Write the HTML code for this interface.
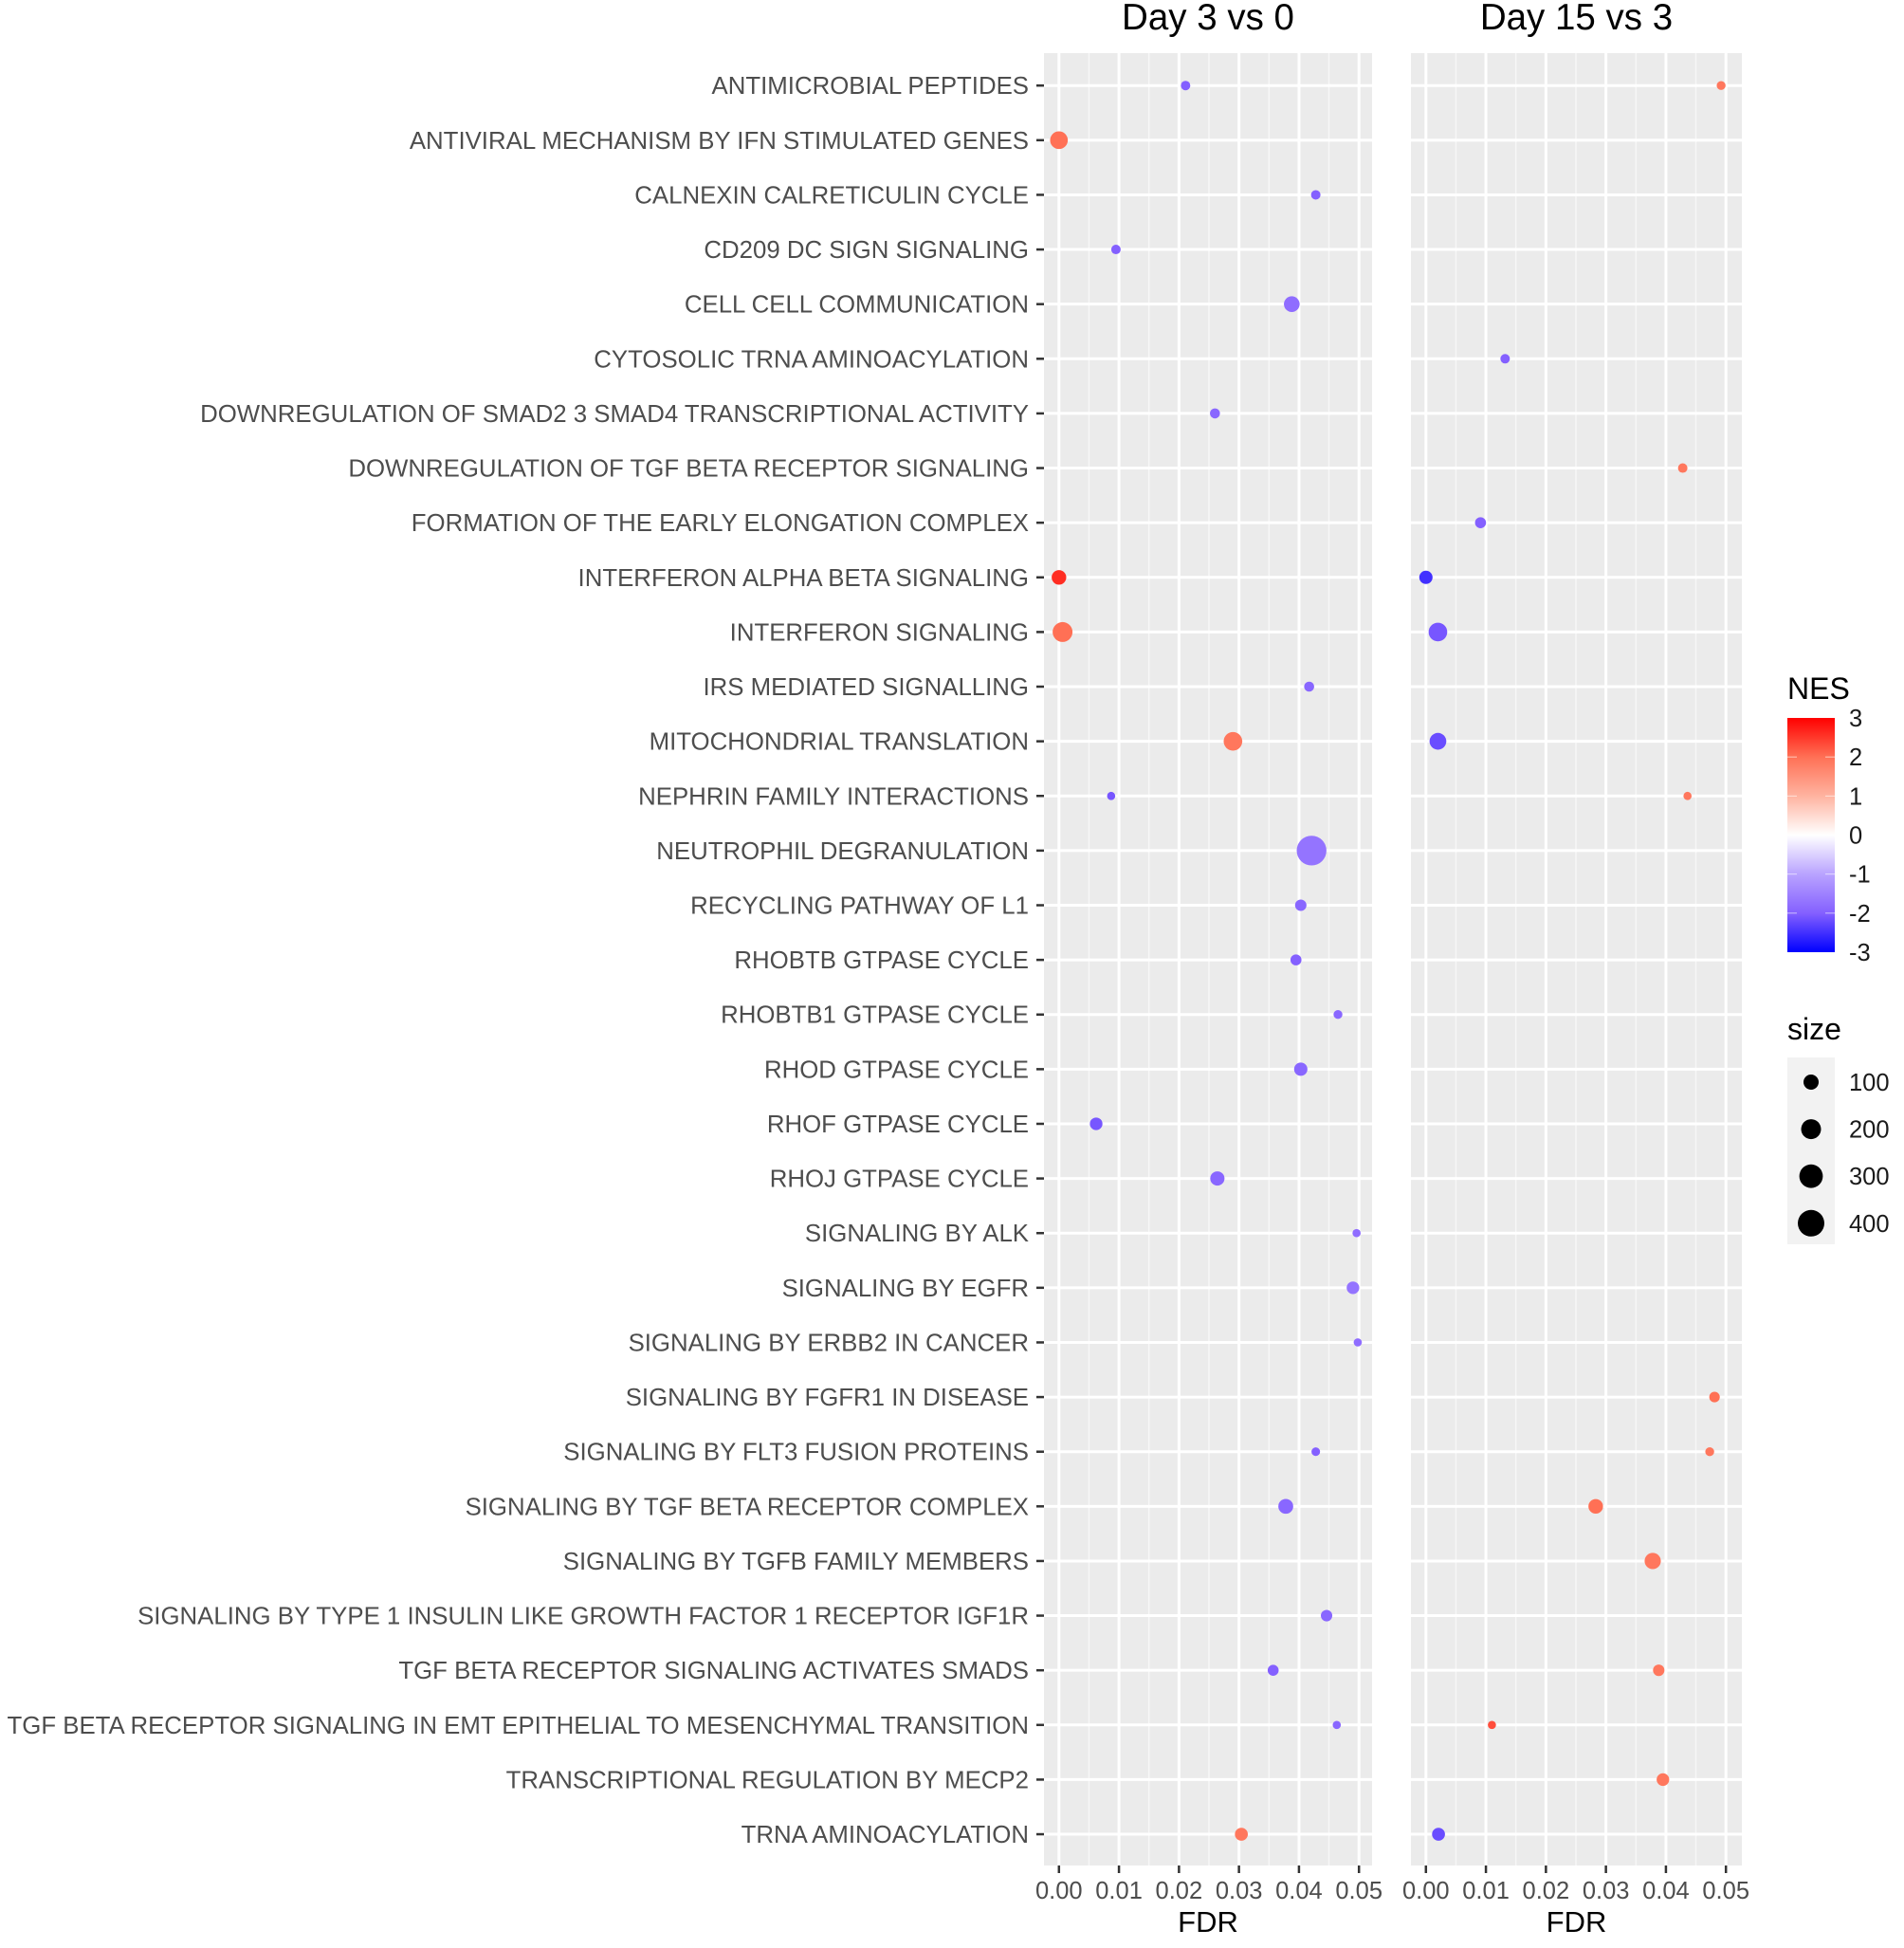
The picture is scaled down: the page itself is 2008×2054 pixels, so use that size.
<!DOCTYPE html>
<html><head><meta charset="utf-8"><style>
html,body{margin:0;padding:0;background:#fff;}
svg{display:block;font-family:"Liberation Sans",Arial,sans-serif;}
</style></head><body>
<svg id="chart" width="2008" height="2054" viewBox="0 0 2008 2054" xmlns="http://www.w3.org/2000/svg">
<defs>
<linearGradient id="nesGrad" x1="0" y1="0" x2="0" y2="1">
<stop offset="0" stop-color="#FF0000"/><stop offset="0.1667" stop-color="#FF7055"/><stop offset="0.3333" stop-color="#FFB3A0"/><stop offset="0.5" stop-color="#FFFFFF"/><stop offset="0.6667" stop-color="#B9A3FF"/><stop offset="0.8333" stop-color="#8460FF"/><stop offset="1" stop-color="#0000FF"/>
</linearGradient>
</defs>
<g id="panels"></g>
<g id="legend">
<text x="1885" y="737" font-size="32" fill="#000">NES</text>
<rect x="1885" y="757" width="50" height="247" fill="url(#nesGrad)"/>
<g id="nesTicks"></g>
<text x="1885" y="1096" font-size="32" fill="#000">size</text>
<rect x="1885" y="1115" width="50" height="197" fill="#F2F2F2"/>
<g id="sizeKeys"></g>
</g>
</svg>
<script>
const categories = ["ANTIMICROBIAL PEPTIDES","ANTIVIRAL MECHANISM BY IFN STIMULATED GENES","CALNEXIN CALRETICULIN CYCLE","CD209 DC SIGN SIGNALING","CELL CELL COMMUNICATION","CYTOSOLIC TRNA AMINOACYLATION","DOWNREGULATION OF SMAD2 3 SMAD4 TRANSCRIPTIONAL ACTIVITY","DOWNREGULATION OF TGF BETA RECEPTOR SIGNALING","FORMATION OF THE EARLY ELONGATION COMPLEX","INTERFERON ALPHA BETA SIGNALING","INTERFERON SIGNALING","IRS MEDIATED SIGNALLING","MITOCHONDRIAL TRANSLATION","NEPHRIN FAMILY INTERACTIONS","NEUTROPHIL DEGRANULATION","RECYCLING PATHWAY OF L1","RHOBTB GTPASE CYCLE","RHOBTB1 GTPASE CYCLE","RHOD GTPASE CYCLE","RHOF GTPASE CYCLE","RHOJ GTPASE CYCLE","SIGNALING BY ALK","SIGNALING BY EGFR","SIGNALING BY ERBB2 IN CANCER","SIGNALING BY FGFR1 IN DISEASE","SIGNALING BY FLT3 FUSION PROTEINS","SIGNALING BY TGF BETA RECEPTOR COMPLEX","SIGNALING BY TGFB FAMILY MEMBERS","SIGNALING BY TYPE 1 INSULIN LIKE GROWTH FACTOR 1 RECEPTOR IGF1R","TGF BETA RECEPTOR SIGNALING ACTIVATES SMADS","TGF BETA RECEPTOR SIGNALING IN EMT EPITHELIAL TO MESENCHYMAL TRANSITION","TRANSCRIPTIONAL REGULATION BY MECP2","TRNA AMINOACYLATION"];
const panelTitles = ["Day 3 vs 0","Day 15 vs 3"];
const xTicks = [0,0.01,0.02,0.03,0.04,0.05];
const xTickLabels = ["0.00","0.01","0.02","0.03","0.04","0.05"];
// Day 3 vs 0 series (null = absent)
const fdrDay3 = [0.0211,0.0,0.0428,0.0095,0.0388,null,0.026,null,null,0.0,0.0006,0.0417,0.029,0.0087,0.0421,0.0403,0.0395,0.0465,0.0403,0.0062,0.0264,0.0496,0.049,0.0498,null,0.0428,0.0378,null,0.0446,0.0357,0.0463,null,0.0304];
const nesDay3 = [-2,2.0,-2,-2,-1.8,null,-1.9,null,null,2.6,2.0,-1.9,1.9,-2.1,-1.7,-1.9,-2,-1.9,-1.9,-2.1,-1.9,-1.8,-1.7,-1.8,null,-2,-1.9,null,-1.9,-2,-1.9,null,1.9];
const sizeDay3 = [25,150,25,25,110,null,30,null,null,90,200,30,170,15,520,45,40,20,70,60,85,15,60,15,null,18,95,null,45,40,15,null,65];
// Day 15 vs 3 series
const fdrDay15 = [0.0492,null,null,null,null,0.0132,null,0.0428,0.0091,0.0,0.002,null,0.002,0.0436,null,null,null,null,null,null,null,null,null,null,0.0481,0.0473,0.0283,0.0378,null,0.0388,0.011,0.0395,0.0021];
const nesDay15 = [1.9,null,null,null,null,-2,null,1.9,-2,-2.5,-2.1,null,-2.2,1.9,null,null,null,null,null,null,null,null,null,null,2.0,1.9,2.0,1.9,null,1.9,2.3,1.9,-2.2];
const sizeDay15 = [20,null,null,null,null,25,null,25,40,70,170,null,130,15,null,null,null,null,null,null,null,null,null,null,35,20,90,120,null,45,15,60,65];
const sizeLegendValues = [100,200,300,400];
const nesLegendValues = [3,2,1,0,-1,-2,-3];

const NS="http://www.w3.org/2000/svg";
function mk(tag,attrs,parent){const e=document.createElementNS(NS,tag);for(const k in attrs)e.setAttribute(k,attrs[k]);parent.appendChild(e);return e;}
const rowY0=90.2, rowStep=57.62;
function yScale(i){return rowY0+i*rowStep;}
const panelDefs=[{x0:1101,x1:1447,v0:1116.8,v5:1433.2},{x0:1488,x1:1837,v0:1503.8,v5:1820.2}];
function xScale(p,v){const d=panelDefs[p];return d.v0+(d.v5-d.v0)*v/0.05;}
function rScale(s){return 2+0.6*Math.sqrt(s);}
const stops=[[-3,[0,0,255]],[-2,[132,96,255]],[-1,[185,163,255]],[0,[255,255,255]],[1,[255,179,160]],[2,[255,112,85]],[3,[255,0,0]]];
function colorScale(n){n=Math.max(-3,Math.min(3,n));for(let i=0;i<stops.length-1;i++){const a=stops[i],b=stops[i+1];if(n>=a[0]&&n<=b[0]){const t=(n-a[0])/(b[0]-a[0]);const c=a[1].map((v,j)=>Math.round(v+(b[1][j]-v)*t));return `rgb(${c[0]},${c[1]},${c[2]})`;}}return "#fff";}
const panelTop=56, panelBot=1967;
const g=document.getElementById('panels');
categories.forEach((c,i)=>{
  const t=mk('text',{x:1085,y:yScale(i)+9,'font-size':25.8,fill:'#4D4D4D','text-anchor':'end'},g);
  
  
  t.textContent=c;
  const tk=mk('line',{x1:1093,x2:1101,y1:yScale(i),y2:yScale(i),stroke:'#333','stroke-width':2.5},g);
  
  
});
const seriesF=[fdrDay3,fdrDay15], seriesN=[nesDay3,nesDay15], seriesS=[sizeDay3,sizeDay15];
panelDefs.forEach((d,p)=>{
  const pg=mk('g',{},g);
  
  
  const bg=mk('rect',{x:d.x0,y:panelTop,width:d.x1-d.x0,height:panelBot-panelTop,fill:'#EBEBEB'},pg);
  
  
  for(let k=0;k<xTicks.length;k++){
    const xm=xScale(p,xTicks[k]+0.005);
    if(xm<d.x1){const l=mk('line',{x1:xm,x2:xm,y1:panelTop,y2:panelBot,stroke:'#F7F7F7','stroke-width':1.5},pg);
    
    }
  }
  xTicks.forEach((v,k)=>{
    const x=xScale(p,v);
    const l=mk('line',{x1:x,x2:x,y1:panelTop,y2:panelBot,stroke:'#fff','stroke-width':3},pg);
    
    
    const tk=mk('line',{x1:x,x2:x,y1:panelBot,y2:panelBot+8,stroke:'#333','stroke-width':2.5},pg);
    
    
    const t=mk('text',{x:x,y:2002,'font-size':25.5,fill:'#4D4D4D','text-anchor':'middle'},pg);
    
    
    t.textContent=xTickLabels[k];
  });
  categories.forEach((c,i)=>{
    const l=mk('line',{x1:d.x0,x2:d.x1,y1:yScale(i),y2:yScale(i),stroke:'#fff','stroke-width':3},pg);
    
    
  });
  const title=mk('text',{x:(d.x0+d.x1)/2,y:31,'font-size':38.5,fill:'#000','text-anchor':'middle'},pg);
  
  
  title.textContent=panelTitles[p];
  const xt=mk('text',{x:(d.x0+d.x1)/2,y:2037,'font-size':31,fill:'#000','text-anchor':'middle'},pg);
  
  
  xt.textContent='FDR';
  seriesF[p].forEach((f,i)=>{
    if(f===null)return;
    const c=mk('circle',{cx:xScale(p,f),cy:yScale(i),r:rScale(seriesS[p][i]),fill:colorScale(seriesN[p][i])},pg);
    
    
  });
});
const nt=document.getElementById('nesTicks');
nesLegendValues.forEach(v=>{
  const y=757+(3-v)/6*247;
  const t=mk('text',{x:1950,y:y+9,'font-size':25.5,fill:'#1A1A1A'},nt);
  
  
  t.textContent=String(v);
  if(v<3&&v>-3){
    const l1=mk('line',{x1:1885,x2:1895,y1:y,y2:y,stroke:'#fff','stroke-width':1,'stroke-opacity':0.6},nt);
    
    
    const l2=mk('line',{x1:1925,x2:1935,y1:y,y2:y,stroke:'#fff','stroke-width':1,'stroke-opacity':0.6},nt);
    
    
  }
});
const sk=document.getElementById('sizeKeys');
sizeLegendValues.forEach((v,k)=>{
  const y=1141+k*49.6;
  const c=mk('circle',{cx:1910,cy:y,r:rScale(v),fill:'#000'},sk);
  
  
  const t=mk('text',{x:1950,y:y+9,'font-size':25.5,fill:'#1A1A1A'},sk);
  
  
  t.textContent=String(v);
});
</script>
</body></html>
